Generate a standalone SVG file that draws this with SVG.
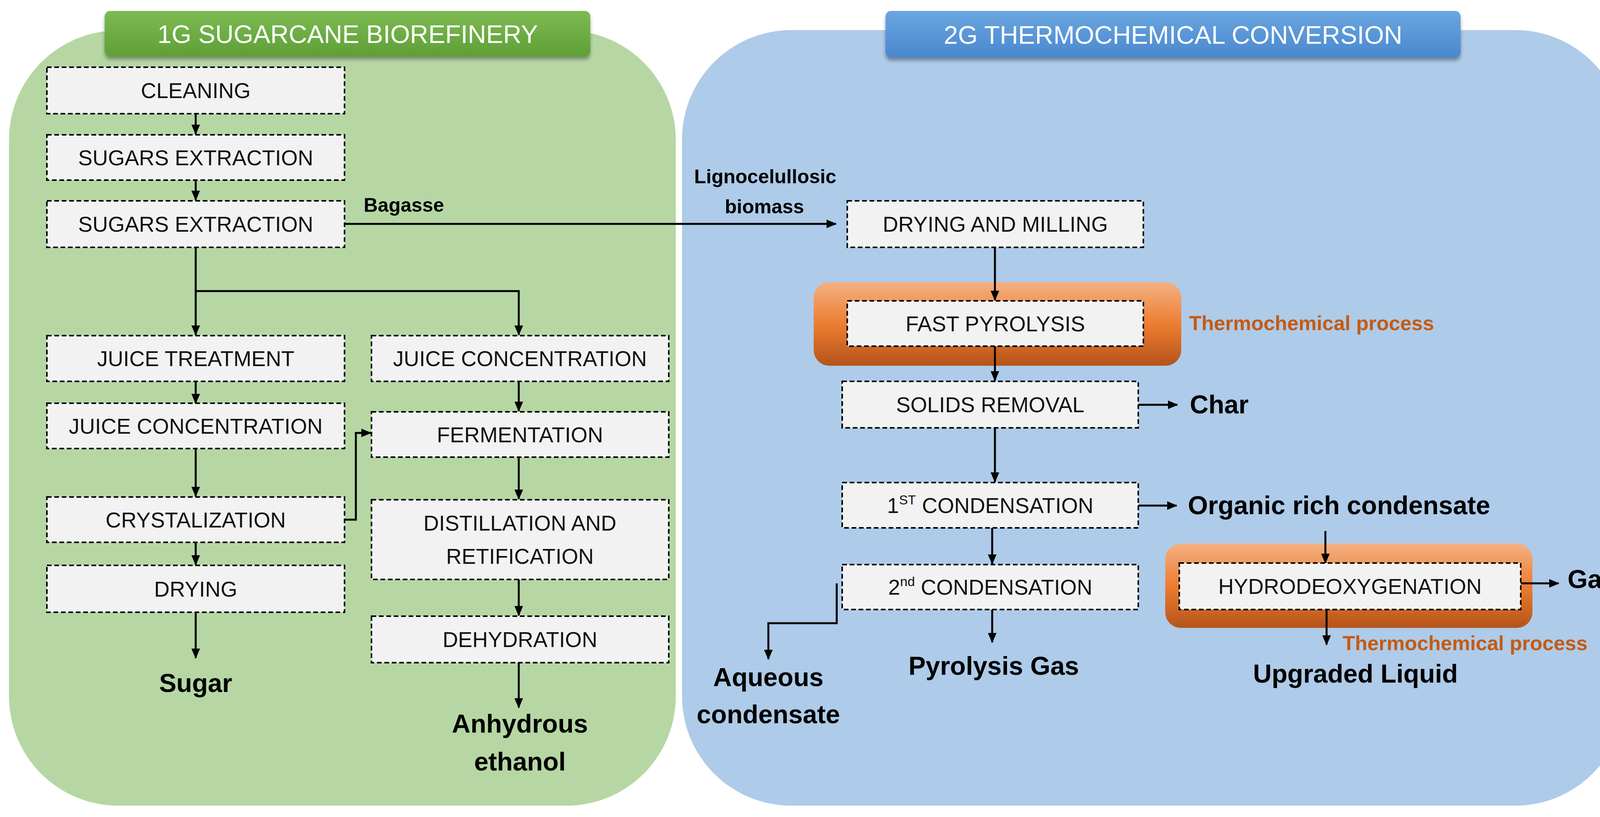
<svg xmlns="http://www.w3.org/2000/svg" width="4190" height="2091" viewBox="0 0 4190 2091">
<defs>
<linearGradient id="gG" x1="0" y1="0" x2="0" y2="1"><stop offset="0" stop-color="#7dbb52"/><stop offset="1" stop-color="#5f9f37"/></linearGradient>
<linearGradient id="gB" x1="0" y1="0" x2="0" y2="1"><stop offset="0" stop-color="#6aa6e0"/><stop offset="1" stop-color="#4a88cf"/></linearGradient>
<linearGradient id="gO" x1="0" y1="0" x2="0" y2="1"><stop offset="0" stop-color="#f4b183"/><stop offset="0.5" stop-color="#ed7d31"/><stop offset="1" stop-color="#b4541a"/></linearGradient>
<filter id="sh" x="-5%" y="-20%" width="110%" height="150%"><feDropShadow dx="0" dy="8" stdDeviation="5" flood-opacity="0.35"/></filter>
<marker id="ar" markerWidth="26" markerHeight="24" refX="24" refY="12" orient="auto" markerUnits="userSpaceOnUse"><path d="M0,1 L26,12 L0,23 Z" fill="#000"/></marker>
<style>
.box{fill:#f2f2f2;stroke:#000;stroke-width:4;stroke-dasharray:12 7}
.t{font-family:"Liberation Sans",Arial,sans-serif;font-size:55px;fill:#111;text-anchor:middle}
.b{font-family:"Liberation Sans",Arial,sans-serif;font-weight:bold;font-size:66px;fill:#000;text-anchor:middle}
.bs{font-family:"Liberation Sans",Arial,sans-serif;font-weight:bold;font-size:66px;fill:#000;text-anchor:start}
.s{font-family:"Liberation Sans",Arial,sans-serif;font-weight:bold;font-size:50px;fill:#000}
.sm{font-family:"Liberation Sans",Arial,sans-serif;font-weight:bold;font-size:50px;fill:#000;text-anchor:middle}
.o{font-family:"Liberation Sans",Arial,sans-serif;font-weight:bold;font-size:52px;fill:#c55a11}
.h{font-family:"Liberation Sans",Arial,sans-serif;font-size:65px;fill:#fff;text-anchor:middle}
.c{fill:none;stroke:#000;stroke-width:5;marker-end:url(#ar)}
</style>
</defs>
<rect x="0" y="0" width="4190" height="2091" fill="#fff"/>
<g id="panel1"><rect x="23" y="78" width="1707" height="1984" rx="280" fill="#b6d7a4"/>
<rect x="268" y="28" width="1243" height="116" rx="14" fill="url(#gG)" filter="url(#sh)"/>
<text class="h" x="890" y="110">1G SUGARCANE BIOREFINERY</text></g>
<g id="panel2"><rect x="1746" y="77" width="2413" height="1985" rx="280" fill="#aecbe9"/>
<rect x="2267" y="28" width="1472" height="119" rx="14" fill="url(#gB)" filter="url(#sh)"/>
<text class="h" x="3003" y="112">2G THERMOCHEMICAL CONVERSION</text></g>
<g id="orange1"><rect x="2083" y="722" width="941" height="214" rx="40" fill="url(#gO)"/></g>
<g id="orange2"><rect x="2983" y="1391" width="940" height="216" rx="40" fill="url(#gO)"/></g>
<g id="connectors">
<path class="c" d="M501 291 V343"/>
<path class="c" d="M501 461 V512"/>
<path class="c" d="M501 633 V857"/>
<path class="c" d="M501 745 H1328 V857"/>
<path class="c" d="M501 976 V1032"/>
<path class="c" d="M1328 976 V1052"/>
<path class="c" d="M501 1148 V1270"/>
<path class="c" d="M882 1330 H911 V1108 H949"/>
<path class="c" d="M1328 1164 V1277"/>
<path class="c" d="M501 1388 V1445"/>
<path class="c" d="M501 1567 V1684"/>
<path class="c" d="M1328 1483 V1575"/>
<path class="c" d="M1328 1696 V1811"/>
<path class="c" d="M882 573 H2140"/>
<path class="c" d="M2547 633 V768"/>
<path class="c" d="M2547 886 V974"/>
<path class="c" d="M2914 1036 H3014"/>
<path class="c" d="M2547 1095 V1233"/>
<path class="c" d="M2914 1294 H3012"/>
<path class="c" d="M2540 1351 V1443"/>
<path class="c" d="M3393 1359 V1441"/>
<path class="c" d="M3893 1493 H3990"/>
<path class="c" d="M3396 1562 V1650"/>
<path class="c" d="M2540 1560 V1644"/>
<path class="c" d="M2142 1493 V1595 H1967 V1687"/>
</g>
<g id="n1"><rect class="box" x="120" y="172" width="762" height="119"/><text class="t" x="501" y="251">CLEANING</text></g>
<g id="n2"><rect class="box" x="120" y="345" width="762" height="116"/><text class="t" x="501" y="423">SUGARS EXTRACTION</text></g>
<g id="n3"><rect class="box" x="120" y="514" width="762" height="119"/><text class="t" x="501" y="593">SUGARS EXTRACTION</text></g>
<g id="n4"><rect class="box" x="120" y="859" width="762" height="117"/><text class="t" x="501" y="937">JUICE TREATMENT</text></g>
<g id="n5"><rect class="box" x="951" y="859" width="761" height="117"/><text class="t" x="1331" y="937">JUICE CONCENTRATION</text></g>
<g id="n6"><rect class="box" x="120" y="1032" width="762" height="116"/><text class="t" x="501" y="1110">JUICE CONCENTRATION</text></g>
<g id="n7"><rect class="box" x="951" y="1054" width="761" height="116"/><text class="t" x="1331" y="1132">FERMENTATION</text></g>
<g id="n8"><rect class="box" x="120" y="1272" width="762" height="116"/><text class="t" x="501" y="1350">CRYSTALIZATION</text></g>
<g id="n9"><rect class="box" x="951" y="1279" width="761" height="204"/><text class="t" x="1331" y="1358">DISTILLATION AND</text><text class="t" x="1331" y="1443">RETIFICATION</text></g>
<g id="n10"><rect class="box" x="120" y="1447" width="762" height="120"/><text class="t" x="501" y="1527">DRYING</text></g>
<g id="n11"><rect class="box" x="951" y="1577" width="761" height="119"/><text class="t" x="1331" y="1656">DEHYDRATION</text></g>
<g id="o1"><text class="b" x="501" y="1771">Sugar</text></g>
<g id="o2"><text class="b" x="1331" y="1875">Anhydrous</text><text class="b" x="1331" y="1972">ethanol</text></g>
<g id="l1"><text class="s" x="931" y="542">Bagasse</text><text class="sm" x="1959" y="469">Lignocelullosic</text><text class="sm" x="1957" y="546">biomass</text></g>
<g id="r1"><rect class="box" x="2169" y="514" width="758" height="119"/><text class="t" x="2548" y="593">DRYING AND MILLING</text></g>
<g id="r2"><rect class="box" x="2169" y="770" width="758" height="116"/><text class="t" x="2548" y="848">FAST PYROLYSIS</text></g>
<text class="o" x="3044" y="845">Thermochemical process</text>
<g id="r3"><rect class="box" x="2156" y="976" width="758" height="119"/><text class="t" x="2535" y="1055">SOLIDS REMOVAL</text></g>
<text class="bs" x="3046" y="1058">Char</text>
<g id="r4"><rect class="box" x="2156" y="1235" width="758" height="116"/><text class="t" x="2535" y="1313">1<tspan font-size="34" dy="-22">ST</tspan><tspan dy="22"> CONDENSATION</tspan></text></g>
<text class="bs" x="3041" y="1316">Organic rich condensate</text>
<g id="r5"><rect class="box" x="2156" y="1445" width="758" height="115"/><text class="t" x="2535" y="1522">2<tspan font-size="34" dy="-22">nd</tspan><tspan dy="22"> CONDENSATION</tspan></text></g>
<g id="r6"><rect class="box" x="3019" y="1441" width="874" height="119"/><text class="t" x="3456" y="1520">HYDRODEOXYGENATION</text></g>
<text class="bs" x="4013" y="1505">Gas</text>
<text class="o" x="3437" y="1664">Thermochemical process</text>
<text class="b" x="3470" y="1747">Upgraded Liquid</text>
<text class="b" x="2544" y="1727">Pyrolysis Gas</text>
<text class="b" x="1967" y="1756">Aqueous</text>
<text class="b" x="1967" y="1851">condensate</text>
</svg>
